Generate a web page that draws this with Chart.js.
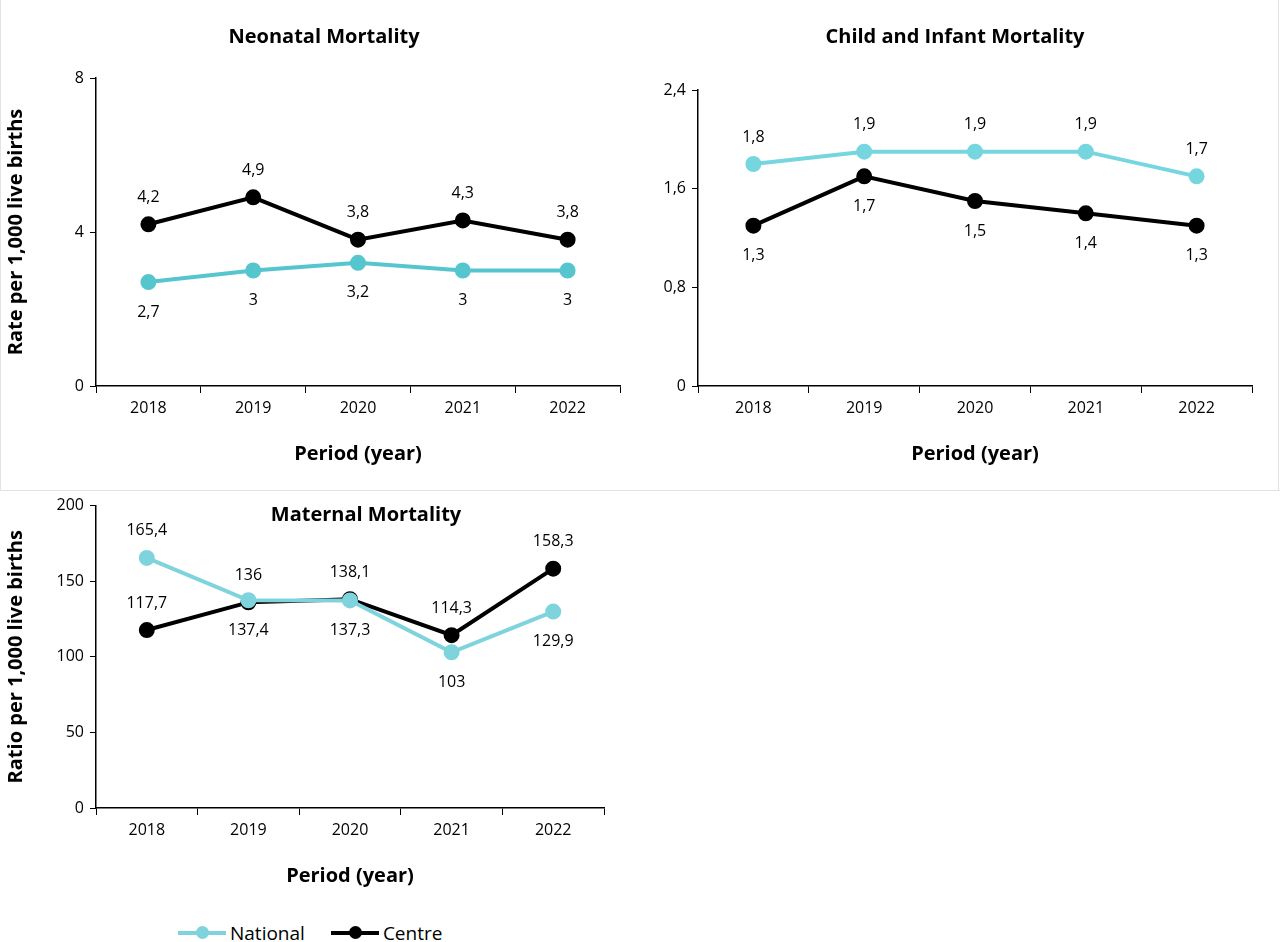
<!DOCTYPE html>
<html>
<head>
<meta charset="utf-8">
<script src="https://cdn.jsdelivr.net/npm/chart.js@4"></script>
<style>
  body { margin: 0; width: 1280px; height: 942px; background: #fff; font-family: "Open Sans", sans-serif; position: relative; overflow: hidden; }
  .box { position: absolute; }
  .ttl { position: absolute; font-weight: bold; font-size: 20px; color: #000; transform: translateX(-50%); white-space: nowrap; }
  .sep { position: absolute; background: #e3e3e3; }
  .legend { position: absolute; top: 920px; left: 178px; font-size: 19px; color: #000; display: flex; gap: 26px; }
  .legend span { display: inline-flex; align-items: center; }
  .legend i { display: inline-block; position: relative; width: 48px; height: 4px; margin-right: 4px; }
  .legend i b { position: absolute; left: 18px; top: -5px; width: 13px; height: 13px; border-radius: 50%; }
</style>
</head>
<body>
<div class="sep" style="left:0;top:490px;width:1280px;height:1px"></div>
<div class="sep" style="left:0;top:0;width:1px;height:490px"></div>
<div class="sep" style="left:1278px;top:0;width:1px;height:490px"></div>

<div class="box" style="left:0;top:0;width:640px;height:470px"><canvas id="c1"></canvas></div>
<div class="box" style="left:640px;top:0;width:640px;height:470px"><canvas id="c2"></canvas></div>
<div class="box" style="left:0;top:490px;width:620px;height:402px"><canvas id="c3"></canvas></div>

<div class="ttl" style="left:324px;top:22px">Neonatal Mortality</div>
<div class="ttl" style="left:955px;top:22px">Child and Infant Mortality</div>
<div class="ttl" style="left:366px;top:500px">Maternal Mortality</div>

<div class="legend">
  <span><i style="background:#7fd3dc"><b style="background:#7fd3dc"></b></i>National</span>
  <span><i style="background:#000"><b style="background:#000"></b></i>Centre</span>
</div>

<script>
var years = ['2018', '2019', '2020', '2021', '2022'];

var neoNational = [2.7, 3, 3.2, 3, 3];
var neoCentre = [4.2, 4.9, 3.8, 4.3, 3.8];
var neoTicks = [0, 4, 8];

var childNational = [1.8, 1.9, 1.9, 1.9, 1.7];
var childCentre = [1.3, 1.7, 1.5, 1.4, 1.3];
var childTicks = [0, 0.8, 1.6, 2.4];

var matNational = [165.4, 137.4, 137.3, 103, 129.9];
var matCentre = [117.7, 136, 138.1, 114.3, 158.3];
var matTicks = [0, 50, 100, 150, 200];

var FONT = '"Open Sans", sans-serif';
Chart.defaults.font.family = FONT;
Chart.defaults.color = '#000';

function fmt(v) { return String(v).replace('.', ','); }

// draws value labels above or below each point
var pointLabels = {
  id: 'pointLabels',
  afterDatasetsDraw: function (chart) {
    var ctx = chart.ctx;
    ctx.save();
    ctx.font = '16px ' + FONT;
    ctx.fillStyle = '#000';
    ctx.textAlign = 'center';
    ctx.textBaseline = 'middle';
    chart.data.datasets.forEach(function (ds, i) {
      chart.getDatasetMeta(i).data.forEach(function (pt, j) {
        var pos = ds.labelPos[j];
        var dy = pos === 'above' ? -27 : 30;
        ctx.fillText(fmt(ds.data[j]), pt.x, pt.y + dy);
      });
    });
    ctx.restore();
  }
};

function makeChart(id, opts) {
  var tickVals = opts.ticks;
  new Chart(document.getElementById(id), {
    type: 'line',
    data: {
      labels: years,
      datasets: [
        { label: 'National', data: opts.national, borderColor: opts.natColor, backgroundColor: opts.natColor,
          borderWidth: 4, pointRadius: 6, pointHoverRadius: 6, tension: 0, labelPos: opts.natPos },
        { label: 'Centre', data: opts.centre, borderColor: '#000', backgroundColor: '#000',
          borderWidth: 4, pointRadius: 6, pointHoverRadius: 6, tension: 0, labelPos: opts.cenPos }
      ]
    },
    options: {
      responsive: true,
      maintainAspectRatio: false,
      animation: false,
      layout: { padding: { top: opts.padTop, right: opts.padRight, left: 0, bottom: 0 } },
      plugins: { legend: { display: false }, tooltip: { enabled: false } },
      scales: {
        x: {
          offset: true,
          grid: { display: true, drawOnChartArea: false, offset: true, color: '#000', tickLength: 7 },
          border: { color: '#000', width: 1.5 },
          ticks: { font: { size: 16 }, padding: 6 },
          title: { display: true, text: 'Period (year)', font: { size: 20, weight: 'bold' }, padding: { top: 8 } },
          afterFit: function (s) { s.height = 84; }
        },
        y: {
          min: tickVals[0],
          max: tickVals[tickVals.length - 1],
          afterBuildTicks: function (s) { s.ticks = tickVals.map(function (v) { return { value: v }; }); },
          grid: { display: true, drawOnChartArea: false, color: '#000', tickLength: 6 },
          border: { color: '#000', width: 1.5 },
          ticks: { font: { size: 16 }, padding: 6, callback: function (v) { return fmt(v); } },
          title: { display: !!opts.yTitle, text: opts.yTitle || '', font: { size: 20, weight: 'bold' }, padding: { bottom: 8 } },
          afterFit: function (s) { s.width = opts.yWidth; }
        }
      }
    },
    plugins: [pointLabels]
  });
}

makeChart('c1', {
  national: neoNational, centre: neoCentre, ticks: neoTicks, natColor: '#55c6cd',
  natPos: ['below', 'below', 'below', 'below', 'below'], cenPos: ['above', 'above', 'above', 'above', 'above'],
  yTitle: 'Rate per 1,000 live births', yWidth: 96, padTop: 78, padRight: 20
});
makeChart('c2', {
  national: childNational, centre: childCentre, ticks: childTicks, natColor: '#76d6df',
  natPos: ['above', 'above', 'above', 'above', 'above'], cenPos: ['below', 'below', 'below', 'below', 'below'],
  yTitle: '', yWidth: 58, padTop: 90, padRight: 28
});
makeChart('c3', {
  national: matNational, centre: matCentre, ticks: matTicks, natColor: '#7fd3dc',
  natPos: ['above', 'below', 'below', 'below', 'below'], cenPos: ['above', 'above', 'above', 'above', 'above'],
  yTitle: 'Ratio per 1,000 live births', yWidth: 96, padTop: 13, padRight: 16
});
</script>
</body>
</html>
